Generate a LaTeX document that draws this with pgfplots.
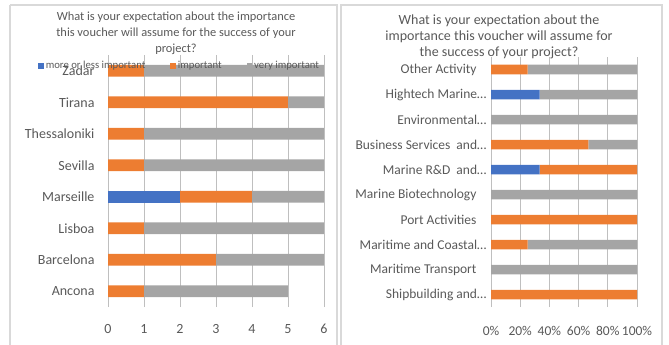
\documentclass[border=0pt]{standalone}
\usepackage{pgfplots}
\pgfplotsset{compat=1.18}
\usepackage{fontspec}
\setmainfont{Carlito}
\definecolor{cblue}{HTML}{4472C4}
\definecolor{corange}{HTML}{ED7D31}
\definecolor{cgray}{HTML}{A5A5A5}
\definecolor{tgray}{HTML}{595959}
\definecolor{grid}{HTML}{D9D9D9}
\begin{document}
\begin{tikzpicture}
\path[use as bounding box] (0pt,0pt) rectangle (669pt,-345pt);
\draw[grid, line width=1.5pt] (10pt,-5pt) -- (337pt,-5pt) -- (337pt,-360pt);
\draw[grid, line width=1.5pt] (10pt,-5pt) -- (10pt,-360pt);
\draw[grid, line width=1.5pt] (341pt,-360pt) -- (341pt,-5pt) -- (662pt,-5pt) -- (662pt,-360pt);
\node[align=center, text=tgray, font={\fontsize{12.4}{16}\selectfont}] at (176pt,-33pt)
 {What is your expectation about the importance\\this voucher will assume for the success of your\\project?};
\node[align=center, text=tgray, font={\fontsize{14}{16}\selectfont}] at (499pt,-37pt)
 {What is your expectation about the\\importance this voucher will assume for\\the success of your project?};
\begin{axis}[
  at={(108pt,-307pt)}, anchor=south west,
  scale only axis, width=216pt, height=252pt,
  xbar stacked, bar width=11.7pt,
  xmin=0, xmax=6, ymin=-0.5, ymax=7.5,
  xtick={0,1,2,3,4,5,6},
  ytick={0,1,2,3,4,5,6,7},
  yticklabels={Ancona,Barcelona,Lisboa,Marseille,Sevilla,Thessaloniki,Tirana,Zadar},
  axis line style={draw=none},
  xmajorgrids, ymajorgrids=false, grid style={grid, line width=0.8pt},
  major tick length=0pt, tick style={draw=none},
  /pgf/number format/assume math mode=true,
  ticklabel style={text=tgray, font={\fontsize{14}{16}\selectfont}},
  xticklabel style={yshift=-14pt},
  yticklabel style={xshift=-10pt},
  legend style={at={(-70pt,241pt)}, anchor=west, draw=none, fill=none,
    font={\fontsize{10.7}{12}\selectfont}, text=tgray, legend columns=3,
    /tikz/every even column/.append style={column sep=23pt},
    inner sep=0pt},
  legend image code/.code={\fill[#1] (0pt,-2.8pt) rectangle (5.6pt,2.8pt);},
]
\addplot[fill=cblue, draw=none] coordinates {(0,0) (0,1) (0,2) (2,3) (0,4) (0,5) (0,6) (0,7)};
\addplot[fill=corange, draw=none] coordinates {(1,0) (3,1) (1,2) (2,3) (1,4) (1,5) (5,6) (1,7)};
\addplot[fill=cgray, draw=none] coordinates {(4,0) (3,1) (5,2) (2,3) (5,4) (5,5) (1,6) (5,7)};
\legend{more or less important, important, very important}
\end{axis}
\begin{axis}[
  at={(491pt,-307pt)}, anchor=south west,
  scale only axis, width=146pt, height=250pt,
  xbar stacked, bar width=9.5pt,
  xmin=0, xmax=100, ymin=-0.5, ymax=9.5,
  xtick={0,20,40,60,80,100},
  xticklabels={0\%,20\%,40\%,60\%,80\%,100\%},
  ytick={0,1,2,3,4,5,6,7,8,9},
  yticklabels={Shipbuilding and…, Maritime Transport\hspace*{10pt}, Maritime and Coastal…, Port Activities\hspace*{10pt}, Marine Biotechnology\hspace*{10pt}, Marine R\&D\hspace{3pt} and…, Business Services\hspace{3pt} and…, Environmental…, Hightech Marine…, Other Activity\hspace*{10pt}},
  axis line style={draw=none},
  xmajorgrids, ymajorgrids=false, grid style={grid, line width=0.8pt},
  major tick length=0pt, tick style={draw=none},
  ticklabel style={text=tgray, font={\fontsize{13.5}{16}\selectfont}},
  xticklabel style={yshift=-16pt},
  yticklabel style={xshift=-1pt},
]
\addplot[fill=cblue, draw=none] coordinates {(0,0) (0,1) (0,2) (0,3) (0,4) (33.33,5) (0,6) (0,7) (33.33,8) (0,9)};
\addplot[fill=corange, draw=none] coordinates {(100,0) (0,1) (25,2) (100,3) (0,4) (66.67,5) (66.67,6) (0,7) (0,8) (25,9)};
\addplot[fill=cgray, draw=none] coordinates {(0,0) (100,1) (75,2) (0,3) (100,4) (0,5) (33.33,6) (100,7) (66.67,8) (75,9)};
\end{axis}
\end{tikzpicture}
\end{document}
